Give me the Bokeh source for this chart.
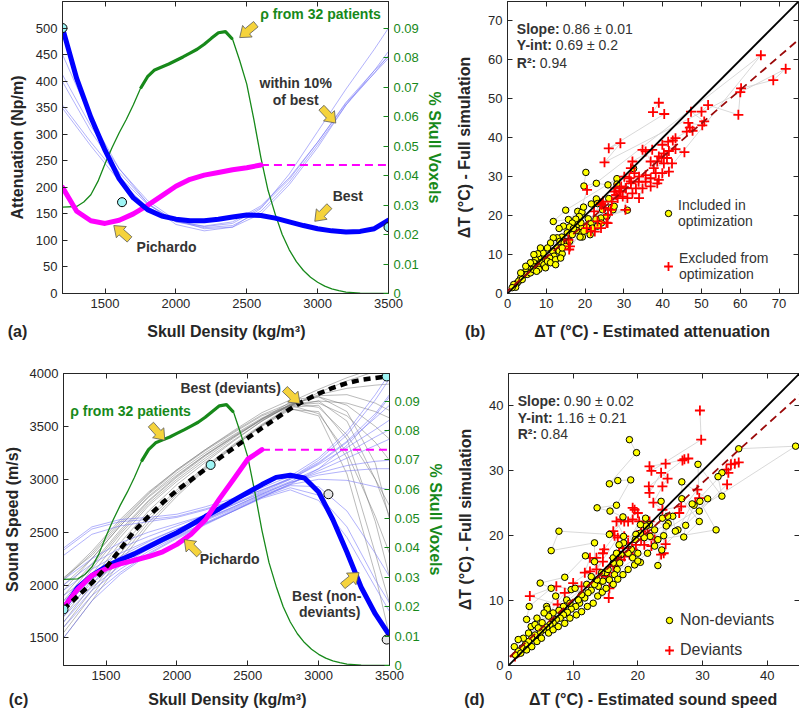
import numpy as np
from bokeh.plotting import figure
from bokeh.models import (Range1d, LinearAxis, FixedTicker, Label, Slope, Legend,
                          LegendItem, NumeralTickFormatter)
from bokeh.layouts import row, column
from bokeh.embed import file_html
from bokeh.resources import INLINE

FONT = "Liberation Sans"
DARK = "#262626"
TXT = "#333333"
GREEN = "#17891a"
BLUE = "#0000ff"
THIN_BLUE = "#6f6ff7"
MAGENTA = "#ff00ff"
GRAYLINE = "#6e6e6e"
ARROW_FILL = "#f5d33c"
CYAN = "#9ef5f5"
NB = "\u00a0"

# ---------------------------------------------------------------- data
# skull density histogram (fraction of skull voxels), shared by (a) and (c)
rho_x = [1200, 1300, 1350, 1400, 1450, 1500, 1550, 1600, 1650, 1700,
         1750, 1800, 1850, 1900, 1950, 2000, 2050, 2100, 2150, 2200, 2250, 2300, 2350, 2400,
         2450, 2500, 2550, 2600, 2650, 2700, 2750, 2800, 2850, 2900, 2950, 3000, 3050, 3100,
         3150, 3200, 3300, 3400, 3500]
rho_frac = [0.0293, 0.0295, 0.031, 0.0335, 0.038, 0.0440, 0.0495, 0.0545, 0.059, 0.064,
            0.0695, 0.0735, 0.0758, 0.0768, 0.0778, 0.0790, 0.0802, 0.0815, 0.0828, 0.0845,
            0.0865, 0.0884, 0.0888, 0.0862,
            0.079, 0.071, 0.059, 0.046, 0.035, 0.027, 0.020, 0.0148, 0.0108, 0.0078, 0.0055,
            0.0038, 0.0025, 0.0016, 0.001, 0.0005, 0.0001, 0.0, 0.0]

# (a) attenuation vs density
dens_x = [1200, 1300, 1400, 1500, 1600, 1700, 1800, 1900, 2000, 2100, 2200, 2300,
          2400, 2500, 2600, 2700, 2800, 2900, 3000, 3100, 3200, 3300, 3400, 3500]
att_best = [500, 405, 332, 270, 216, 180, 158, 146, 140, 137, 137, 140,
            144, 148, 147, 142, 135, 128, 122, 118, 116, 117, 122, 138]
pich_x = [1200, 1300, 1400, 1500, 1600, 1700, 1800, 1900, 2000, 2100, 2200, 2300, 2400, 2500, 2600]
att_pich = [200, 155, 137, 132, 138, 150, 166, 184, 202, 215, 223, 228, 233, 237, 242]
pich_ext_x = [2600, 3500]
att_pich_ext = [242, 242]
curve_x = [1200, 1400, 1600, 1800, 2000, 2200, 2400, 2600, 2800, 3000, 3200, 3400, 3500]
att_within10 = [
    [450, 330, 235, 170, 130, 118, 125, 160, 225, 305, 385, 460, 500],
    [412, 315, 235, 175, 138, 122, 125, 150, 205, 275, 355, 420, 456],
    [399, 305, 228, 170, 135, 124, 128, 155, 210, 280, 355, 415, 449],
    [355, 285, 220, 168, 137, 126, 132, 162, 215, 285, 360, 420, 447],
    [349, 278, 212, 163, 135, 127, 135, 165, 218, 285, 358, 415, 443],
]
att_pts_x = [1200, 1620, 3500]
att_pts_y = [500, 172, 125]

# (c) sound speed vs density
ss_best = [1780, 1975, 2090, 2175, 2240, 2295, 2362, 2430, 2495, 2570, 2648, 2722,
           2800, 2875, 2950, 3018, 3038, 3012, 2880, 2620, 2310, 1980, 1727, 1525]
dev_x = [1200, 1300, 1400, 1500, 1600, 1700, 1800, 1900, 2000, 2100, 2200, 2300,
         2400, 2500, 2600, 2700, 2800, 2900, 3000, 3100, 3200, 3300, 3400, 3480]
ss_dev = [1770, 1895, 2020, 2165, 2337, 2512, 2650, 2780, 2895, 2995, 3095, 3200,
          3295, 3390, 3485, 3575, 3665, 3745, 3810, 3865, 3910, 3940, 3958, 3972]
ss_pich = [1790, 1960, 2090, 2155, 2200, 2235, 2270, 2315, 2385, 2480, 2615, 2815, 3000, 3190, 3280]
ss_pich_ext = [3280, 3280]
ss_dev_family = [
    [1650, 2000, 2350, 2650, 2900, 3120, 3330, 3520, 3690, 3820, 3930, 4020, 4060],
    [1750, 2100, 2450, 2750, 2980, 3180, 3370, 3550, 3700, 3800, 3860, 3890, 3900],
    [1900, 2200, 2520, 2800, 3030, 3230, 3410, 3570, 3690, 3740, 3720, 3640, 3580],
    [2000, 2250, 2560, 2840, 3060, 3250, 3420, 3580, 3700, 3720, 3600, 3350, 3180],
    [2050, 2300, 2600, 2870, 3090, 3280, 3450, 3610, 3720, 3680, 3420, 3000, 2750],
    [2070, 2280, 2580, 2860, 3080, 3270, 3440, 3600, 3700, 3620, 3250, 2650, 2300],
    [1600, 1950, 2300, 2620, 2880, 3110, 3320, 3510, 3680, 3700, 3380, 2600, 2080],
    [1550, 1900, 2260, 2590, 2860, 3100, 3310, 3500, 3660, 3640, 3200, 2300, 1830],
    [1500, 1850, 2220, 2560, 2840, 3090, 3310, 3510, 3670, 3600, 3050, 2100, 1520],
    [1800, 2150, 2480, 2770, 3000, 3200, 3390, 3570, 3730, 3850, 3960, 4050, 4100],
    [1950, 2250, 2560, 2830, 3040, 3230, 3400, 3560, 3700, 3790, 3800, 3720, 3650],
    [2060, 2320, 2620, 2880, 3090, 3280, 3460, 3630, 3750, 3780, 3700, 3500, 3380],
    [1700, 2050, 2400, 2700, 2950, 3160, 3360, 3550, 3710, 3780, 3640, 3150, 2620],
    [1850, 2180, 2500, 2790, 3020, 3220, 3400, 3570, 3710, 3740, 3550, 3000, 2650],
]
ss_nondev_family = [
    [2330, 2530, 2600, 2620, 2650, 2720, 2800, 2900, 3000, 3150, 3350, 3580, 3700],
    [2280, 2480, 2560, 2600, 2640, 2710, 2800, 2900, 3010, 3180, 3420, 3750, 3950],
    [2050, 2250, 2400, 2500, 2580, 2660, 2760, 2870, 2980, 3100, 3250, 3400, 3470],
    [1950, 2150, 2300, 2420, 2530, 2630, 2740, 2860, 2970, 3060, 3130, 3170, 3180],
    [1850, 2080, 2250, 2390, 2510, 2620, 2730, 2850, 2950, 3000, 2990, 2930, 2900],
    [1750, 2020, 2210, 2360, 2490, 2610, 2720, 2840, 2940, 2930, 2700, 2300, 2080],
    [1700, 1980, 2180, 2340, 2470, 2590, 2710, 2830, 2920, 2850, 2550, 2050, 1830],
    [1500, 1850, 2100, 2290, 2440, 2570, 2700, 2830, 2950, 3100, 3320, 3600, 3780],
    [1900, 2100, 2270, 2410, 2530, 2640, 2760, 2880, 3000, 3140, 3300, 3470, 3560],
    [2000, 2200, 2350, 2460, 2560, 2660, 2770, 2890, 3010, 3160, 3360, 3620, 3800],
    [1800, 2050, 2230, 2370, 2500, 2620, 2740, 2860, 2970, 3040, 3080, 3100, 3100],
    [2350, 2550, 2620, 2640, 2670, 2740, 2820, 2920, 3030, 3200, 3450, 3800, 4000],
    [1600, 1900, 2120, 2300, 2450, 2580, 2700, 2830, 2960, 3080, 3200, 3320, 3380],
    [1650, 1950, 2150, 2320, 2460, 2580, 2700, 2820, 2900, 2800, 2450, 1980, 1750],
]
ss_cyan_x = [1200, 2238, 3480]
ss_cyan_y = [1770, 3136, 3972]
ss_gray_x = [3069, 3480]
ss_gray_y = [2859, 1485]

# (b) temperature rise: estimated attenuation vs full simulation
b_inc_x = [20.2, 19.7, 22.9, 25.9, 28.2, 28.2, 32.5, 15.0, 11.8, 15.7, 18.1, 19.2, 19.6, 21.6, 22.9,
           23.2, 26.1, 26.8, 27.2, 30.9, 24.1, 25.6, 20.8, 21.5, 22.8, 24.2, 18.5, 17.6, 16.7, 16.0,
           14.4, 13.3, 15.4, 18.2, 19.2, 19.1, 19.3, 21.3, 18.7, 17.8, 17.0, 14.0, 12.8, 11.8, 11.1,
           13.5, 14.6, 15.4, 15.0, 12.7, 11.6, 10.3, 13.3, 14.1, 12.0, 10.9, 9.6, 9.0, 8.1, 7.2,
           6.8, 8.5, 7.7, 6.4, 5.5, 4.7, 4.2, 3.4, 2.5, 2.1, 2.9, 5.1, 5.9, 9.4, 9.8, 6.6, 3.8, 8.1,
           7.5, 10.3, 11.1, 12.4, 12.4, 13.7, 14.1, 16.0, 16.7, 20.4, 24.5, 27.5, 19.7, 21.9, 23.2,
           18.9, 9.2, 8.5, 7.8, 6.8, 5.9, 4.7, 3.4, 1.6, 1.2]
b_inc_y = [31.1, 27.6, 28.3, 27.9, 29.5, 28.1, 32.1, 21.4, 18.5, 19.0, 21.1, 20.9, 22.2, 23.0, 24.3,
           23.1, 24.4, 22.1, 21.5, 21.4, 19.4, 19.8, 19.2, 17.9, 19.1, 18.1, 19.8, 19.1, 18.1, 17.1,
           17.3, 16.7, 15.6, 17.7, 16.8, 15.7, 14.5, 15.1, 14.5, 16.2, 16.7, 14.5, 14.3, 14.3, 13.0,
           13.4, 13.0, 13.4, 12.1, 11.7, 10.9, 11.7, 10.9, 10.2, 9.6, 9.1, 8.7, 9.6, 9.1, 8.7,
           7.9, 7.9, 7.0, 7.0, 6.2, 5.7, 4.9, 4.0, 2.7, 1.6, 3.2, 4.9, 5.3, 7.4, 6.6, 6.2, 3.6, 6.2,
           5.7, 8.3, 7.9, 8.7, 7.4, 9.1, 11.7, 13.4, 15.1, 17.1, 21.5, 22.4, 16.0, 16.8, 17.3,
           18.2, 10.4, 11.7, 10.2, 10.0, 7.9, 7.0, 5.3, 2.3, 1.5]
b_exc_x = [39.0, 37.5, 40.4, 26.1, 29.1, 25.0, 71.7, 68.5, 60.2, 60.0, 59.5, 51.7, 50.0, 47.3, 50.7,
           50.2, 46.6, 47.0, 47.7, 46.2, 43.3, 42.6, 41.4, 39.9, 45.6, 43.3, 41.6, 40.3, 41.1, 39.7,
           38.6, 39.0, 37.7, 40.3, 42.4, 41.6, 39.9, 38.2, 36.9, 35.6, 34.8, 37.3, 32.2, 31.8, 32.7,
           33.9, 35.6, 36.9, 39.0, 31.4, 30.1, 30.4, 25.9, 25.5, 22.5, 20.4, 15.7, 16.1, 24.6, 24.2,
           25.0, 26.7, 26.9, 28.0, 28.8, 27.8, 29.3, 30.5, 29.7, 30.9, 32.2, 31.8, 33.1, 33.8, 34.8,
           33.9, 35.6, 36.9, 38.6, 65.3, 20.5, 15.9, 24.1, 24.9, 22.3, 23.2, 24.1, 21.5, 25.8, 28.4,
           29.2, 27.5, 30.5, 31.8]
b_exc_y = [49.0, 46.6, 46.1, 37.3, 38.6, 33.7, 57.7, 54.8, 52.7, 51.7, 45.9, 48.4, 46.7, 46.7, 44.2,
           43.2, 43.8, 42.6, 41.8, 41.6, 39.9, 39.3, 39.0, 38.2, 36.3, 37.1, 36.6, 36.0, 34.8, 34.8,
           33.9, 35.2, 32.2, 33.4, 33.4, 31.3, 30.9, 30.9, 33.9, 36.5, 36.9, 36.9, 33.9, 32.2, 30.9,
           30.0, 30.4, 29.6, 29.2, 29.6, 30.0, 21.5, 20.2, 18.2, 15.9, 16.8, 13.8, 12.1, 23.6, 22.8,
           21.9, 21.5, 23.6, 25.3, 26.2, 27.0, 27.5, 27.0, 24.9, 24.5, 25.7, 28.3, 27.0, 28.7, 27.0,
           24.5, 28.7, 27.5, 28.3, 61.2, 26.6, 11.3, 23.2, 22.0, 21.1, 18.5, 16.8, 16.0, 18.1, 24.5,
           26.2, 26.2, 27.1, 28.8]
b_slope, b_yint, b_r2 = 0.86, 0.69, 0.94

# (d) temperature rise: estimated sound speed vs full simulation
d_non_x = [18.7, 19.8, 15.6, 16.9, 18.9, 16.7, 13.7, 15.7, 17.7, 15.6, 7.8, 6.6, 13.3, 13.3, 11.9,
           8.7, 4.9, 6.6, 3.2, 2.8, 4.4, 5.9, 6.0, 7.3, 9.7, 10.3, 44.4, 35.6, 33.0, 32.4, 33.0,
           29.3, 29.5, 30.8, 26.8, 26.8, 29.5, 27.1, 27.4, 28.7, 28.4, 26.2, 25.8, 25.4, 24.6, 23.6,
           23.8, 24.0, 24.7, 23.1, 23.7, 21.8, 21.3, 21.9, 21.0, 20.4, 19.7, 19.6, 20.0, 20.4, 19.2,
           19.0, 18.5, 17.8, 17.8, 17.1, 17.4, 17.2, 16.8, 16.4, 15.6, 15.1, 14.6, 13.9, 13.3, 12.8,
           12.3, 11.8, 11.3, 11.0, 10.4, 9.7, 9.1, 8.5, 8.0, 7.4, 6.9, 6.4, 5.9, 5.4, 4.9, 4.1, 3.6,
           3.1, 2.6, 2.1, 1.5, 1.1, 1.9, 2.8, 3.6, 4.4, 5.1, 6.2, 6.9, 7.7, 8.7, 9.5, 10.5, 11.3,
           12.2, 13.1, 13.8, 14.5, 15.1, 16.2, 16.9, 17.7, 18.5, 19.5, 20.0, 21.5, 22.6, 3.5, 4.1,
           5.2, 8.5, 10.8, 9.0, 9.5, 7.8, 6.9, 6.2, 5.5, 4.6, 3.1, 2.3, 1.5, 0.9, 12.1, 12.8, 13.7,
           14.4, 15.4, 16.2, 16.2, 16.7, 20.4, 21.2, 24.4, 22.6, 23.1, 32.1, 29.6]
d_non_y = [34.8, 32.8, 28.0, 28.5, 28.6, 24.7, 24.3, 23.8, 22.9, 20.2, 20.7, 17.7, 18.9, 16.0, 16.9,
           13.6, 12.7, 11.9, 9.1, 7.1, 7.3, 9.1, 8.7, 10.7, 11.7, 11.9, 33.8, 33.4, 29.7, 29.1, 26.1,
           31.0, 23.8, 25.7, 28.3, 25.7, 22.2, 19.8, 21.6, 24.7, 24.9, 20.9, 20.7, 23.0, 23.0, 25.3,
           22.7, 20.0, 21.9, 15.4, 17.8, 21.7, 21.5, 19.9, 19.7, 20.4, 20.2, 19.4, 17.3, 15.9, 16.6,
           17.9, 17.3, 18.9, 19.9, 18.6, 17.1, 15.8, 14.8, 14.0, 13.2, 14.3, 13.0, 12.2, 12.5, 11.6,
           11.2, 10.4, 10.9, 9.6, 9.1, 8.7, 8.2, 7.8, 7.3, 7.1, 6.6, 6.3, 5.9, 5.5, 5.1, 4.7, 4.2,
           3.7, 3.2, 2.7, 2.2, 1.6, 1.9, 2.4, 2.9, 3.7, 4.2, 5.0, 5.5, 6.0, 6.5, 7.3, 7.8, 8.3,
           9.1, 9.6, 10.7, 11.3, 11.9, 12.5, 13.3, 14.0, 14.8, 15.5, 16.1, 17.3, 18.4, 6.0, 6.3,
           6.6, 9.1, 10.1, 10.1, 9.6, 8.5, 8.1, 7.6, 8.1, 5.8, 5.0, 4.2, 4.0, 2.9, 12.5, 13.7, 13.2,
           14.3, 14.8, 15.8, 16.6, 17.3, 21.7, 22.7, 21.5, 20.9, 19.4, 20.9, 25.3]
d_dev_x = [29.6, 29.8, 22.1, 21.8, 24.3, 27.2, 27.8, 26.9, 21.7, 21.8, 23.6, 24.6, 23.8, 22.4, 23.8,
           26.7, 26.4, 29.2, 29.5, 28.9, 33.7, 34.4, 35.0, 35.6, 34.0, 33.8, 24.3, 24.0, 23.6, 19.5,
           19.2, 18.5, 17.4, 16.7, 17.9, 16.4, 14.8, 14.6, 13.6, 12.6, 11.8, 15.6, 15.5, 7.4, 3.3,
           7.6, 20.5, 21.0, 22.1, 22.6, 21.5, 20.5, 19.7, 19.2, 18.7, 17.9, 17.4, 16.9, 16.2, 15.6,
           15.1, 14.4, 13.8, 13.1, 16.3, 17.1, 17.7, 18.5, 20.2, 20.9, 21.8, 19.2, 20.0, 17.9, 16.2,
           16.9, 13.6, 14.6, 12.6, 10.0, 11.3, 8.7, 1.0, 1.8]
d_dev_y = [39.3, 34.8, 30.0, 30.7, 31.1, 31.8, 31.9, 31.6, 27.6, 26.6, 29.7, 28.8, 27.6, 25.1, 24.0,
           24.5, 23.5, 27.1, 25.8, 25.1, 30.2, 31.0, 31.1, 31.3, 29.7, 27.9, 18.7, 17.3, 17.1, 24.0,
           22.5, 22.2, 22.5, 22.2, 19.9, 20.0, 17.9, 17.3, 16.6, 16.6, 14.3, 11.9, 10.4, 12.2, 10.7,
           9.4, 19.4, 18.6, 18.4, 19.4, 20.4, 20.7, 18.6, 17.9, 17.1, 16.8, 16.3, 15.8, 15.3, 14.3,
           13.7, 13.2, 12.5, 12.7, 16.6, 17.3, 18.1, 18.9, 22.2, 21.7, 22.2, 24.3, 23.5, 22.2, 20.7,
           19.7, 14.8, 16.0, 14.5, 12.7, 12.2, 11.2, 1.4, 2.4]
d_slope, d_yint, d_r2 = 0.90, 1.16, 0.84

# annotation arrows (tip, tail) in data units
arr_a_tip_x = [2450, 3128, 2980, 1562]
arr_a_tip_y = [482, 321, 136, 128]
arr_a_tail_x = [2563, 3034, 3081, 1668]
arr_a_tail_y = [507, 348, 164, 103]
arr_c_tip_x = [1915, 2869, 2052, 3285]
arr_c_tip_y = [3369, 3716, 2430, 2118]
arr_c_tail_x = [1821, 2775, 2151, 3175]
arr_c_tail_y = [3511, 3836, 2298, 1998]

dens_ticks = [1500, 2000, 2500, 3000, 3500]
att_ticks = [0, 50, 100, 150, 200, 250, 300, 350, 400, 450, 500]
ss_ticks = [1500, 2000, 2500, 3000, 3500, 4000]
vox_ticks = [0, 0.01, 0.02, 0.03, 0.04, 0.05, 0.06, 0.07, 0.08, 0.09]
dtb_ticks = [0, 10, 20, 30, 40, 50, 60, 70]
dtd_ticks = [0, 10, 20, 30, 40]

# ---------------------------------------------------------------- layout
FW_L, FW_R, FH = 326, 291, 292
XR_DENS = (1200, 3500)
YR_ATT = (0, 550)
YR_SS = (1240, 4000)
XR_B = (0, 75)
XR_D = (0, 45)


def base_fig(xr, yr, fw, bl, br, bt, bb):
    p = figure(x_range=Range1d(*xr), y_range=Range1d(*yr), frame_width=fw, frame_height=FH,
               min_border_left=bl, min_border_right=br, min_border_top=bt, min_border_bottom=bb,
               output_backend="svg", toolbar_location=None, tools="")
    p.xgrid.visible = False
    p.ygrid.visible = False
    p.outline_line_color = DARK
    p.outline_line_alpha = 1.0
    p.outline_line_width = 1
    p.background_fill_color = "white"
    p.border_fill_color = "white"
    return p


def style_axis(ax, ticks, color=DARK, label=None, standoff=7):
    ax.ticker = FixedTicker(ticks=ticks)
    ax.major_tick_in = 5
    ax.major_tick_out = 0
    ax.minor_tick_line_color = None
    ax.major_tick_line_color = color
    ax.axis_line_color = DARK
    ax.major_label_text_color = color
    ax.major_label_text_font = FONT
    ax.major_label_text_font_size = "13px"
    ax.major_label_standoff = 5
    if label is not None:
        ax.axis_label = label
        ax.axis_label_text_font = FONT
        ax.axis_label_text_font_size = "16px"
        ax.axis_label_text_font_style = "bold"
        ax.axis_label_text_color = color
        ax.axis_label_standoff = standoff


def tick_only_axis(p, ticks, side, **kw):
    ax = LinearAxis(**kw)
    ax.ticker = FixedTicker(ticks=ticks)
    ax.major_tick_in = 5
    ax.major_tick_out = 0
    ax.minor_tick_line_color = None
    ax.major_tick_line_color = DARK
    ax.axis_line_color = DARK
    ax.major_label_text_font_size = "1px"
    ax.major_label_text_color = None
    ax.major_label_standoff = 0
    p.add_layout(ax, side)


def add_text(p, text, x, y, color=TXT, align="center", bold=True, size="14px"):
    p.add_layout(Label(x=x, y=y, text=text, text_font=FONT, text_font_size=size,
                       text_font_style="bold" if bold else "normal", text_color=color,
                       text_align=align, text_baseline="middle"))


def add_arrows(p, xr, yr, fw, tip_x, tip_y, tail_x, tail_y):
    kx = fw / (xr[1] - xr[0])
    ky = FH / (yr[1] - yr[0])
    L, HL, HW, SW = 21.0, 10.0, 7.5, 3.5
    xs, ys = [], []
    for tx, ty, sx, sy in zip(tip_x, tip_y, tail_x, tail_y):
        T = np.array([(tx - xr[0]) * kx, (ty - yr[0]) * ky])
        S = np.array([(sx - xr[0]) * kx, (sy - yr[0]) * ky])
        d = T - S
        d = d / np.hypot(d[0], d[1])
        n = np.array([-d[1], d[0]])
        S2 = T - d * L
        B = T - d * HL
        pts = [S2 + n * SW, B + n * SW, B + n * HW, T, B - n * HW, B - n * SW, S2 - n * SW]
        xs.append([xr[0] + q[0] / kx for q in pts])
        ys.append([yr[0] + q[1] / ky for q in pts])
    p.patches(xs, ys, fill_color=ARROW_FILL, line_color="#5a5a5a", line_width=0.8)


def two_part(p, bold_txt, reg_txt, x, y, offset):
    p.add_layout(Label(x=x, y=y, text=bold_txt, text_font=FONT, text_font_size="14px",
                       text_font_style="bold", text_color=TXT, text_baseline="middle"))
    p.add_layout(Label(x=x, y=y, x_offset=offset, text=reg_txt, text_font=FONT,
                       text_font_size="14px", text_color=TXT, text_baseline="middle"))


def add_legend(p, rend, lab, gsize, cx, cy, item_h, fsize, standoff):
    lg = Legend(items=[LegendItem(label=lab, renderers=[rend])],
                location=(int(cx - gsize // 2), int(round(cy - item_h / 2))),
                glyph_width=int(gsize), glyph_height=int(gsize), label_standoff=int(standoff),
                padding=0, margin=0, border_line_color=None, background_fill_alpha=0,
                label_text_font=FONT, label_text_font_size=fsize, label_text_color=TXT)
    p.add_layout(lg)


# ---------------------------------------------------------------- (a)
pa = base_fig(XR_DENS, YR_ATT, FW_L, 62, 62, 1, 72)
pa.extra_y_ranges = {"vox": Range1d(0, 0.099)}
for ys in att_within10:
    pa.line(curve_x, ys, line_color=THIN_BLUE, line_width=0.9, line_alpha=0.6)
pa.line(rho_x, rho_frac, y_range_name="vox", line_color=GREEN, line_width=1.3)
noisy = [(x, y) for x, y in zip(rho_x, rho_frac) if 1750 <= x <= 2400]
pa.line([q[0] for q in noisy], [q[1] for q in noisy], y_range_name="vox",
        line_color=GREEN, line_width=3.2)
pa.line(pich_x, att_pich, line_color=MAGENTA, line_width=5, line_join="round", line_cap="round")
pa.line(pich_ext_x, att_pich_ext, line_color=MAGENTA, line_width=2, line_dash="8 5")
pa.line(dens_x, att_best, line_color=BLUE, line_width=5, line_join="round", line_cap="round")
pa.scatter(att_pts_x, att_pts_y, size=9, fill_color=CYAN, line_color="black", line_width=1)
add_arrows(pa, XR_DENS, YR_ATT, FW_L, arr_a_tip_x, arr_a_tip_y, arr_a_tail_x, arr_a_tail_y)
add_text(pa, "ρ from 32 patients", 3446, 527, color=GREEN, align="right")
add_text(pa, "within 10%", 2845, 396)
add_text(pa, "of best", 2845, 364)
add_text(pa, "Best", 3213, 183)
add_text(pa, "Pichardo", 1934, 87)
style_axis(pa.xaxis[0], dens_ticks, label="(a)" + NB * 27 + "Skull Density (kg/m³)" + NB * 31,
           standoff=12)
style_axis(pa.yaxis[0], att_ticks, label="Attenuation (Np/m)")
ra = LinearAxis(y_range_name="vox")
style_axis(ra, vox_ticks, color=GREEN, label="% Skull Voxels", standoff=4)
ra.formatter = NumeralTickFormatter(format="0.[00]")
pa.add_layout(ra, "right")
tick_only_axis(pa, dens_ticks, "above")

# ---------------------------------------------------------------- (b)
pb = base_fig(XR_B, XR_B, FW_R, 57, 1, 1, 72)
pb.line(b_inc_x, b_inc_y, line_color="#cfcfcf", line_width=0.8)
pb.line(b_exc_x, b_exc_y, line_color="#cfcfcf", line_width=0.8)
rb_inc = pb.scatter(b_inc_x, b_inc_y, size=6.5, fill_color="#ffff00", line_color="black", line_width=1)
rb_exc = pb.scatter(b_exc_x, b_exc_y, marker="cross", size=10, line_color="#ff0000", line_width=1.8)
pb.add_layout(Slope(gradient=1, y_intercept=0, line_color="black", line_width=1.8))
pb.add_layout(Slope(gradient=b_slope, y_intercept=b_yint, line_color="#9b0a0a", line_width=1.8,
                    line_dash="8 5"))
two_part(pb, "Slope:", f"{b_slope:.2f} ± 0.01", 2.4, 68.0, 46)
two_part(pb, "Y-int:", f"{b_yint:.2f} ± 0.2", 2.4, 63.7, 39)
two_part(pb, "R²:", f"{b_r2:.2f}", 2.4, 59.3, 23)
add_legend(pb, rb_inc, "Included in\noptimization", 16, 161, 81, 34, "14px", 2)
add_legend(pb, rb_exc, "Excluded from\noptimization", 22, 161, 28, 34, "14px", 0)
style_axis(pb.xaxis[0], dtb_ticks,
           label="(b)" + NB * 11 + "ΔT (°C) - Estimated attenuation" + NB * 16, standoff=12)
style_axis(pb.yaxis[0], dtb_ticks, label="ΔT (°C) - Full simulation", standoff=12)
tick_only_axis(pb, dtb_ticks, "above")
tick_only_axis(pb, dtb_ticks, "right")

# ---------------------------------------------------------------- (c)
pc = base_fig(XR_DENS, YR_SS, FW_L, 62, 62, 8, 47)
pc.extra_y_ranges = {"vox": Range1d(0, 0.0994)}
for ys in ss_dev_family:
    pc.line(curve_x, ys, line_color=GRAYLINE, line_width=0.8, line_alpha=0.6)
for ys in ss_nondev_family:
    pc.line(curve_x, ys, line_color=THIN_BLUE, line_width=0.9, line_alpha=0.6)
pc.line(rho_x, rho_frac, y_range_name="vox", line_color=GREEN, line_width=1.3)
pc.line([q[0] for q in noisy], [q[1] for q in noisy], y_range_name="vox",
        line_color=GREEN, line_width=3.2)
pc.line(dens_x, ss_best, line_color=BLUE, line_width=5, line_join="round", line_cap="round")
pc.line(pich_x, ss_pich, line_color=MAGENTA, line_width=5, line_join="round", line_cap="round")
pc.line(pich_ext_x, ss_pich_ext, line_color=MAGENTA, line_width=2, line_dash="8 5")
pc.line(dev_x, ss_dev, line_color="black", line_width=4.5, line_dash="7 5")
pc.scatter(ss_cyan_x, ss_cyan_y, size=9, fill_color=CYAN, line_color="black", line_width=1)
pc.scatter(ss_gray_x, ss_gray_y, size=9, fill_color="#e6e6e6", line_color="black", line_width=1)
add_arrows(pc, XR_DENS, YR_SS, FW_L, arr_c_tip_x, arr_c_tip_y, arr_c_tail_x, arr_c_tail_y)
add_text(pc, "Best (deviants)", 2379, 3864)
add_text(pc, "ρ from 32 patients", 1673, 3644, color=GREEN)
add_text(pc, "Pichardo", 2372, 2244)
add_text(pc, "Best (non-", 3057, 1897)
add_text(pc, "deviants)", 3078, 1743)
style_axis(pc.xaxis[0], dens_ticks, label="(c)" + NB * 27 + "Skull Density (kg/m³)" + NB * 31,
           standoff=8)
style_axis(pc.yaxis[0], ss_ticks, label="Sound Speed (m/s)", standoff=6)
rc = LinearAxis(y_range_name="vox")
style_axis(rc, vox_ticks, color=GREEN, label="% Skull Voxels", standoff=4)
rc.formatter = NumeralTickFormatter(format="0.[00]")
pc.add_layout(rc, "right")
tick_only_axis(pc, dens_ticks, "above")

# ---------------------------------------------------------------- (d)
pd_ = base_fig(XR_D, XR_D, FW_R, 57, 1, 8, 47)
pd_.line(d_non_x, d_non_y, line_color="#cfcfcf", line_width=0.8)
pd_.line(d_dev_x, d_dev_y, line_color="#cfcfcf", line_width=0.8)
rd_dev = pd_.scatter(d_dev_x, d_dev_y, marker="cross", size=10, line_color="#ff0000", line_width=1.8)
rd_non = pd_.scatter(d_non_x, d_non_y, size=6.5, fill_color="#ffff00", line_color="black", line_width=1)
pd_.add_layout(Slope(gradient=1, y_intercept=0, line_color="black", line_width=1.8))
pd_.add_layout(Slope(gradient=d_slope, y_intercept=d_yint, line_color="#9b0a0a", line_width=1.8,
                     line_dash="8 5"))
two_part(pd_, "Slope:", f"{d_slope:.2f} ± 0.02", 1.43, 40.8, 46)
two_part(pd_, "Y-int:", f"{d_yint:.2f} ± 0.21", 1.43, 38.1, 39)
two_part(pd_, "R²:", f"{d_r2:.2f}", 1.43, 35.6, 23)
add_legend(pd_, rd_non, "Non-deviants", 16, 161, 46, 19, "16px", 3)
add_legend(pd_, rd_dev, "Deviants", 22, 161, 15, 22, "16px", 0)
style_axis(pd_.xaxis[0], dtd_ticks,
           label="(d)" + NB * 10 + "ΔT (°C) - Estimated sound speed" + NB * 15, standoff=8)
style_axis(pd_.yaxis[0], dtd_ticks, label="ΔT (°C) - Full simulation", standoff=12)
tick_only_axis(pd_, dtd_ticks, "above")
tick_only_axis(pd_, dtd_ticks, "right")

layout = column(row(pa, pb, spacing=0), row(pc, pd_, spacing=0), spacing=0)
open("out.html", "w").write(file_html(layout, INLINE))
